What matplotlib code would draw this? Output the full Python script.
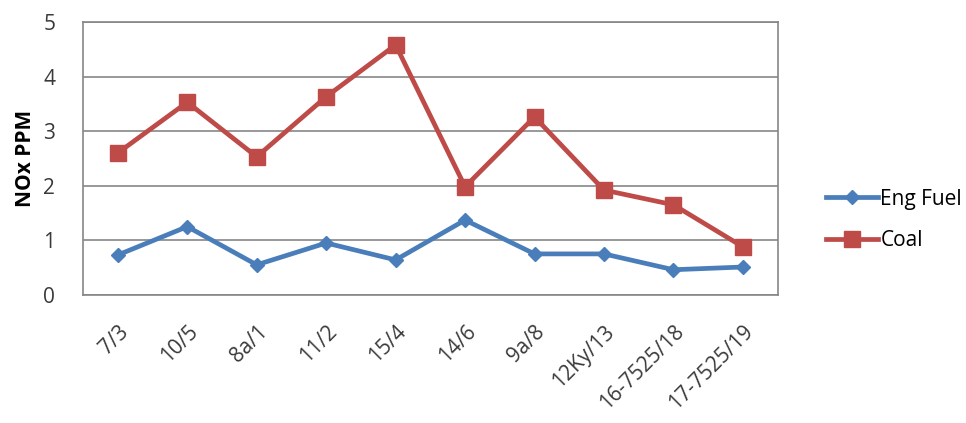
import matplotlib
matplotlib.use("Agg")
import matplotlib.pyplot as plt
import numpy as np

categories = ["7/3", "10/5", "8a/1", "11/2", "15/4", "14/6", "9a/8",
              "12Ky/13", "16-7525/18", "17-7525/19"]
eng_fuel = [0.73, 1.25, 0.55, 0.95, 0.64, 1.37, 0.75, 0.75, 0.46, 0.51]
coal = [2.6, 3.53, 2.53, 3.63, 4.58, 1.98, 3.26, 1.92, 1.65, 0.88]


def main():
    plt.rcParams['font.family'] = ['Open Sans', 'DejaVu Sans']
    fig = plt.figure(figsize=(9.66, 4.23), dpi=100)
    ax = fig.add_axes([0.086, 0.303, 0.719, 0.645])

    x = np.arange(len(categories))
    ax.plot(x, eng_fuel, color='#4A7EBB', lw=3.4, marker='D', ms=7,
            label='Eng Fuel', zorder=3)
    ax.plot(x, coal, color='#BE4B48', lw=3.4, marker='s', ms=11,
            label='Coal', zorder=3)

    ax.set_xlim(-0.5, len(categories) - 0.5)
    ax.set_ylim(0, 5)
    ax.set_yticks(range(0, 6))
    ax.yaxis.grid(True, color='#868686', lw=1.2)
    ax.set_axisbelow(True)
    for s in ax.spines.values():
        s.set_color('#868686')
        s.set_linewidth(1.2)

    ax.set_xticks(x)
    ax.set_xticklabels(categories, rotation=45, ha='right', rotation_mode='anchor',
                       fontsize=15, color='#3a3a3a')
    ax.tick_params(axis='both', length=0, labelsize=15, labelcolor='#3a3a3a')
    ax.tick_params(axis='y', pad=20)
    ax.tick_params(axis='x', pad=19)
    ax.set_ylabel('NOx PPM', fontsize=15, fontweight='bold', labelpad=5)

    fig.legend(loc='center left', bbox_to_anchor=(0.836, 0.48), frameon=False,
               fontsize=15, handlelength=2.5, labelspacing=1.0, handletextpad=0.1)

    fig.savefig('out.png', dpi=100)


if __name__ == '__main__':
    main()
